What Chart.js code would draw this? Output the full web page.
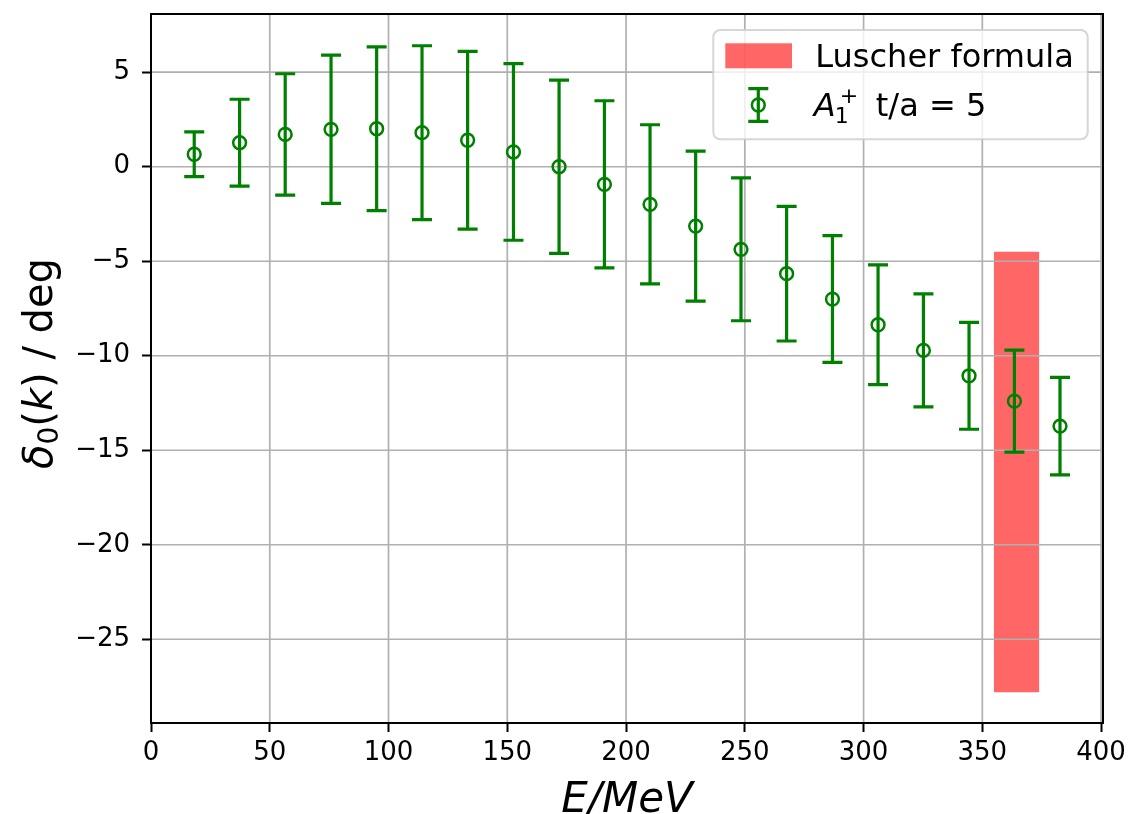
<!DOCTYPE html>
<html>
<head>
<meta charset="utf-8">
<script src="https://cdn.jsdelivr.net/npm/chart.js@4/dist/chart.umd.min.js"></script>
<style>
  html, body { margin: 0; padding: 0; background: #ffffff; }
  #wrap { width: 1129px; height: 814px; }
</style>
</head>
<body>
<div id="wrap"><canvas id="phase" width="1129" height="814"></canvas></div>
<script>
// Centre-of-mass energies of the lattice levels (MeV)
const energies = [18.2, 37.3, 56.5, 75.8, 95.0, 114.1, 133.3, 152.6, 171.8, 190.9,
                  210.1, 229.3, 248.4, 267.6, 286.9, 306.1, 325.2, 344.4, 363.5, 382.7];
// S-wave phase shift delta_0(k) in degrees, A1+ irrep, t/a = 5
const phaseShift = [0.66, 1.27, 1.71, 1.98, 2.01, 1.80, 1.40, 0.78, 0.00, -0.93,
                    -1.99, -3.14, -4.37, -5.66, -7.00, -8.36, -9.72, -11.06, -12.40, -13.72];
// symmetric uncertainties (degrees)
const phaseErr = [1.18, 2.30, 3.21, 3.92, 4.33, 4.60, 4.70, 4.67, 4.58, 4.42,
                  4.21, 3.97, 3.78, 3.56, 3.35, 3.17, 2.99, 2.83, 2.70, 2.58];
// Luscher formula band: energy window and phase-shift range
const luscherEnergy = [354.8, 374.0];
const luscherPhase = [-27.8, -4.5];
// axis ticks
const xTicks = [0, 50, 100, 150, 200, 250, 300, 350, 400];
const yTicks = [-25, -20, -15, -10, -5, 0, 5];

const GREEN = '#008000';
const GRID = '#b0b0b0';
const FONT = "'DejaVu Sans', 'Liberation Sans', sans-serif";

const minus = v => (v < 0 ? '\u2212' + Math.abs(v) : String(v));

// grid lines sit above the band but below the error bars and markers
function drawGrid(chart) {
  const { ctx, chartArea: a, scales: { x, y } } = chart;
  ctx.save();
  ctx.strokeStyle = GRID;
  ctx.lineWidth = 1.7;
  ctx.beginPath();
  xTicks.forEach(v => {
    const px = x.getPixelForValue(v);
    ctx.moveTo(px, a.top); ctx.lineTo(px, a.bottom);
  });
  yTicks.forEach(v => {
    const py = y.getPixelForValue(v);
    ctx.moveTo(a.left, py); ctx.lineTo(a.right, py);
  });
  ctx.stroke();
  ctx.restore();
}

function drawErrorBars(chart) {
  const { ctx, scales: { x, y } } = chart;
  const cap = 10;
  ctx.save();
  ctx.strokeStyle = GREEN;
  ctx.lineWidth = 3.2;
  ctx.lineCap = 'butt';
  energies.forEach((e, i) => {
    const px = x.getPixelForValue(e);
    const top = y.getPixelForValue(phaseShift[i] + phaseErr[i]);
    const bot = y.getPixelForValue(phaseShift[i] - phaseErr[i]);
    ctx.beginPath();
    ctx.moveTo(px, top); ctx.lineTo(px, bot);
    ctx.moveTo(px - cap, top); ctx.lineTo(px + cap, top);
    ctx.moveTo(px - cap, bot); ctx.lineTo(px + cap, bot);
    ctx.stroke();
  });
  ctx.restore();
}

function drawRuns(ctx, runs, x, y) {
  runs.forEach(r => {
    ctx.font = r.font;
    ctx.fillText(r.t, x + (r.dx || 0), y + (r.dy || 0));
    x += (r.dx || 0) + ctx.measureText(r.t).width;
  });
}
function runsWidth(ctx, runs) {
  let w = 0;
  runs.forEach(r => { ctx.font = r.font; w += (r.dx || 0) + ctx.measureText(r.t).width; });
  return w;
}

const decorations = {
  id: 'decorations',
  beforeDatasetDraw(chart, args) {
    if (args.index === 0) {
      drawGrid(chart);
      drawErrorBars(chart);
    }
  },
  afterDatasetsDraw(chart) {
    const { ctx, chartArea: a } = chart;
    // frame (all four spines)
    ctx.save();
    ctx.strokeStyle = '#000';
    ctx.lineWidth = 2;
    ctx.strokeRect(a.left, a.top, a.right - a.left, a.bottom - a.top);
    ctx.restore();
  },
  afterDraw(chart) {
    const { ctx, chartArea: a } = chart;
    ctx.save();
    ctx.fillStyle = '#000';
    ctx.textBaseline = 'alphabetic';

    // x axis title
    const xRuns = [{ t: 'E/MeV', font: `italic 42px ${FONT}` }];
    const xw = runsWidth(ctx, xRuns);
    drawRuns(ctx, xRuns, (a.left + a.right) / 2 - xw / 2, a.bottom + 88.5);

    // y axis title
    const yRuns = [
      { t: '\u03B4', font: `italic 40px ${FONT}` },
      { t: '0', font: `28px ${FONT}`, dy: 6 },
      { t: '(', font: `40px ${FONT}` },
      { t: 'k', font: `italic 40px ${FONT}` },
      { t: ') / deg', font: `40px ${FONT}` }
    ];
    const yw = runsWidth(ctx, yRuns);
    ctx.save();
    ctx.translate(a.left - 99.3, (a.top + a.bottom) / 2 - 5);
    ctx.rotate(-Math.PI / 2);
    drawRuns(ctx, yRuns, -yw / 2, 0);
    ctx.restore();

    // legend
    const lw = 374.4, lh = 109.3;
    const lx = a.right - 15.3 - lw, ly = a.top + 16;
    ctx.beginPath();
    ctx.roundRect(lx, ly, lw, lh, 7);
    ctx.fillStyle = 'rgba(255,255,255,0.8)';
    ctx.fill();
    ctx.strokeStyle = 'rgba(204,204,204,0.8)';
    ctx.lineWidth = 2;
    ctx.stroke();

    ctx.fillStyle = 'rgba(255,0,0,0.6)';
    ctx.fillRect(lx + 12, ly + 13.3, 66.7, 25);

    ctx.fillStyle = '#000';
    ctx.font = `32px ${FONT}`;
    ctx.fillText('Luscher formula', lx + 102, ly + 36.7);

    // errorbar glyph
    const gx = lx + 45, gy = ly + 75;
    ctx.strokeStyle = GREEN;
    ctx.lineWidth = 3.2;
    ctx.beginPath();
    ctx.moveTo(gx, gy - 16.3); ctx.lineTo(gx, gy + 16.3);
    ctx.moveTo(gx - 10, gy - 16.3); ctx.lineTo(gx + 10, gy - 16.3);
    ctx.moveTo(gx - 10, gy + 16.3); ctx.lineTo(gx + 10, gy + 16.3);
    ctx.stroke();
    ctx.lineWidth = 2.5;
    ctx.beginPath();
    ctx.arc(gx, gy, 6.4, 0, Math.PI * 2);
    ctx.stroke();

    ctx.fillStyle = '#000';
    const bx = lx + 100.5, by = ly + 86;
    ctx.font = `italic 32px ${FONT}`;
    ctx.fillText('A', bx, by);
    const aw = ctx.measureText('A').width;
    ctx.font = `22px ${FONT}`;
    ctx.fillText('1', bx + aw - 1, by + 7);
    ctx.fillText('+', bx + aw + 4, by - 13);
    ctx.font = `32px ${FONT}`;
    ctx.fillText('t/a = 5', bx + 62, by);
    ctx.restore();
  }
};

const bandTop = [
  { x: luscherEnergy[0], y: luscherPhase[1] },
  { x: luscherEnergy[1], y: luscherPhase[1] }
];
const bandBottom = [
  { x: luscherEnergy[0], y: luscherPhase[0] },
  { x: luscherEnergy[1], y: luscherPhase[0] }
];

new Chart(document.getElementById('phase'), {
  type: 'scatter',
  data: {
    datasets: [
      {
        label: 'A1+ t/a = 5',
        data: energies.map((e, i) => ({ x: e, y: phaseShift[i] })),
        pointStyle: 'circle',
        pointRadius: 6.4,
        pointBorderWidth: 2.5,
        borderColor: GREEN,
        pointBorderColor: GREEN,
        backgroundColor: 'rgba(0,0,0,0)',
        pointBackgroundColor: 'rgba(0,0,0,0)',
        showLine: false,
        order: 0
      },
      {
        type: 'line',
        label: 'Luscher formula',
        data: bandTop,
        borderWidth: 0,
        borderColor: 'rgba(0,0,0,0)',
        pointRadius: 0,
        backgroundColor: 'rgba(255,0,0,0.6)',
        fill: '+1',
        order: 1
      },
      {
        type: 'line',
        label: 'band lower edge',
        data: bandBottom,
        borderWidth: 0,
        borderColor: 'rgba(0,0,0,0)',
        pointRadius: 0,
        fill: false,
        order: 2
      }
    ]
  },
  options: {
    responsive: false,
    devicePixelRatio: 1,
    animation: false,
    events: [],
    layout: { padding: { left: 0, top: 14, right: 26, bottom: 0 } },
    plugins: {
      legend: { display: false },
      tooltip: { enabled: false },
      title: { display: false }
    },
    scales: {
      x: {
        type: 'linear',
        min: 0,
        max: 400.8,
        bounds: 'data',
        afterBuildTicks: s => { s.ticks = xTicks.map(v => ({ value: v })); },
        afterFit: s => {
          s.height = 91;
          s.paddingLeft = 0; s.paddingRight = 0; s.paddingTop = 0; s.paddingBottom = 0;
        },
        border: { display: false },
        grid: {
          drawOnChartArea: false,
          drawTicks: true,
          tickLength: 9,
          tickColor: '#000',
          tickWidth: 2
        },
        ticks: {
          color: '#000',
          font: { family: FONT, size: 26 },
          padding: 6,
          maxRotation: 0,
          autoSkip: false,
          callback: v => minus(v)
        }
      },
      y: {
        type: 'linear',
        min: -29.43,
        max: 8.08,
        bounds: 'data',
        afterBuildTicks: s => { s.ticks = yTicks.map(v => ({ value: v })); },
        afterFit: s => {
          s.width = 151;
          s.paddingLeft = 0; s.paddingRight = 0; s.paddingTop = 0; s.paddingBottom = 0;
        },
        border: { display: false },
        grid: {
          drawOnChartArea: false,
          drawTicks: true,
          tickLength: 9,
          tickColor: '#000',
          tickWidth: 2
        },
        ticks: {
          color: '#000',
          font: { family: FONT, size: 26 },
          padding: 12,
          autoSkip: false,
          callback: v => minus(v)
        }
      }
    }
  },
  plugins: [decorations]
});
</script>
</body>
</html>
